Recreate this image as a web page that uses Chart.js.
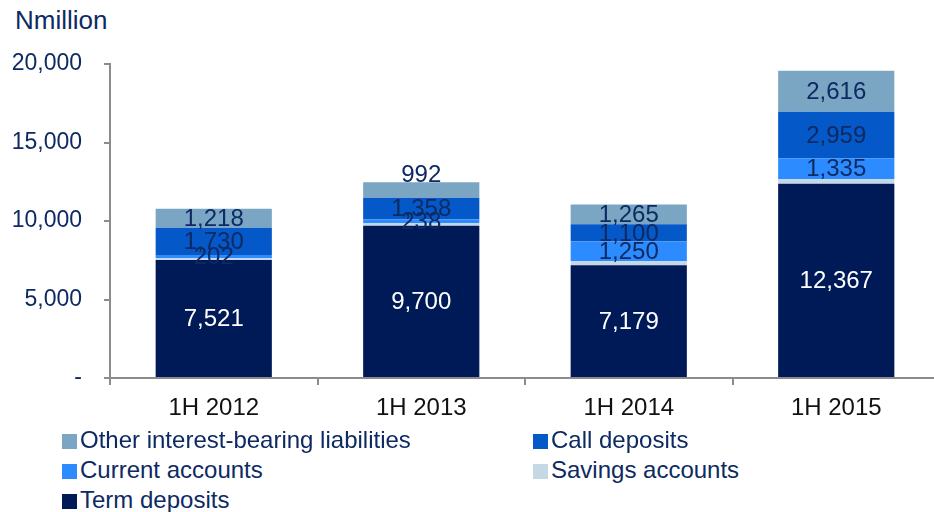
<!DOCTYPE html>
<html>
<head>
<meta charset="utf-8">
<script src="https://cdn.jsdelivr.net/npm/chart.js@4"></script>
<style>
  html, body { margin: 0; padding: 0; background: #fff; overflow: hidden; }
  body { width: 934px; height: 512px; position: relative; font-family: "Liberation Sans", Arial, sans-serif; color: #0d2a62; }
  #unit { position: absolute; left: 15px; top: 5px; font-size: 26px; }
  #wrap { position: absolute; left: 0; top: 0; width: 940px; height: 430px; }
  #legend { position: absolute; left: 0; top: 426px; width: 934px; }
  .item { position: absolute; font-size: 24px; white-space: nowrap; line-height: 28px; }
  .item span.box { display: inline-block; width: 15px; height: 15px; margin-right: 3px; vertical-align: -1px; }
</style>
</head>
<body>
<div id="unit">Nmillion</div>
<div id="wrap"><canvas id="depositsChart"></canvas></div>
<div id="legend"></div>
<script>
const categories = ["1H 2012", "1H 2013", "1H 2014", "1H 2015"];
const termDeposits = [7521, 9700, 7179, 12367];
const savingsAccounts = [110, 180, 260, 300];
const currentAccounts = [202, 238, 1250, 1335];
const callDeposits = [1730, 1358, 1100, 2959];
const otherLiabilities = [1218, 992, 1265, 2616];
const yTicks = [0, 5000, 10000, 15000, 20000];

const textColor = "#0d2a62";
const axisColor = "#8c8c8c";
const fontFamily = "'Liberation Sans', Arial, sans-serif";

const datasets = [
  { label: "Term deposits", data: termDeposits, backgroundColor: "#001a57", showLabel: true, labelColor: "#ffffff" },
  { label: "Savings accounts", data: savingsAccounts, backgroundColor: "#c4d8e6", showLabel: false },
  { label: "Current accounts", data: currentAccounts, backgroundColor: "#2b8bff", showLabel: true, labelColor: textColor },
  { label: "Call deposits", data: callDeposits, backgroundColor: "#0558c7", showLabel: true, labelColor: textColor },
  { label: "Other interest-bearing liabilities", data: otherLiabilities, backgroundColor: "#7ba6c3", showLabel: true, labelColor: textColor },
];

// legend, two columns like the original
const legendOrder = [4, 3, 2, 1, 0];
const legendEl = document.getElementById("legend");
legendOrder.forEach((idx, i) => {
  const ds = datasets[idx];
  const div = document.createElement("div");
  div.className = "item";
  div.style.left = (i % 2 === 0 ? 62 : 533) + "px";
  div.style.top = Math.floor(i / 2) * 30 + "px";
  div.innerHTML = '<span class="box" style="background:' + ds.backgroundColor + '"></span>' + ds.label;
  legendEl.appendChild(div);
});

const fmt = (v) => v.toLocaleString("en-US");

const segmentLabels = {
  id: "segmentLabels",
  afterDatasetsDraw(chart) {
    const ctx = chart.ctx;
    ctx.save();
    ctx.font = "24px " + fontFamily;
    ctx.textAlign = "center";
    ctx.textBaseline = "middle";
    const last = chart.data.datasets.length - 1;
    chart.data.datasets.forEach((ds, di) => {
      if (!ds.showLabel) return;
      chart.getDatasetMeta(di).data.forEach((bar, i) => {
        const top = Math.min(bar.y, bar.base);
        const h = Math.abs(bar.base - bar.y);
        let y = top + h / 2 + 1;
        if (di === last && h < 17) y = top - 7;
        ctx.fillStyle = ds.labelColor;
        ctx.fillText(fmt(ds.data[i]), bar.x, y);
      });
    });
    ctx.restore();
  },
};

new Chart(document.getElementById("depositsChart"), {
  type: "bar",
  data: {
    labels: categories,
    datasets: datasets.map((d) => ({
      label: d.label,
      data: d.data,
      backgroundColor: d.backgroundColor,
      showLabel: d.showLabel,
      labelColor: d.labelColor,
      borderWidth: 0,
      categoryPercentage: 1,
      barPercentage: 0.56,
    })),
  },
  options: {
    animation: false,
    responsive: true,
    maintainAspectRatio: false,
    layout: { padding: { top: 64, right: 0, left: 0, bottom: 0 } },
    scales: {
      x: {
        stacked: true,
        border: { color: axisColor, width: 2 },
        grid: { display: true, drawOnChartArea: false, drawTicks: true, tickLength: 7, color: axisColor, lineWidth: 2, offset: true },
        ticks: { color: "#111", padding: 9, font: { size: 24, family: fontFamily } },
        afterFit(scale) { scale.height = 52; },
      },
      y: {
        stacked: true,
        min: 0,
        max: 20000,
        afterBuildTicks(scale) { scale.ticks = yTicks.map((v) => ({ value: v })); },
        border: { color: axisColor, width: 2 },
        grid: { display: true, drawOnChartArea: false, drawTicks: true, tickLength: 6, color: axisColor, lineWidth: 2 },
        ticks: {
          color: textColor,
          padding: 22,
          font: { size: 23, family: fontFamily },
          callback: (v) => (v === 0 ? "-" : fmt(v)),
        },
        afterFit(scale) { scale.width = 110; },
      },
    },
    plugins: {
      legend: { display: false },
      tooltip: { enabled: false },
    },
  },
  plugins: [segmentLabels],
});
</script>
</body>
</html>
